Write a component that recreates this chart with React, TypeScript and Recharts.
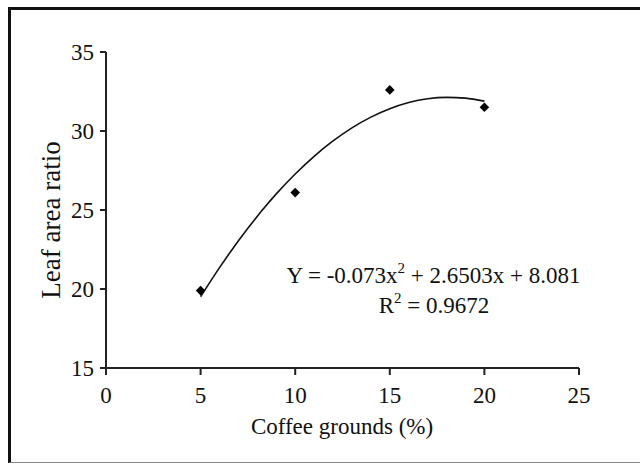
import React from "react";
import { ComposedChart, Line, Scatter, XAxis, YAxis, Customized } from "recharts";

// Observed data: coffee grounds (%) vs leaf area ratio
const groundsPct = [5, 10, 15, 20];
const leafAreaRatio = [19.9, 26.1, 32.6, 31.5];

// Trend line values (x = 5..20)
const trendX = [5, 6, 7, 8, 9, 10, 11, 12, 13, 14, 15, 16, 17, 18, 19, 20];
const trendY = [19.51, 21.35, 23.06, 24.61, 26.02, 27.28, 28.4, 29.37, 30.2, 30.88, 31.41, 31.8, 32.04, 32.13, 32.08, 31.89];

const xTicks = [0, 5, 10, 15, 20, 25];
const yTicks = [15, 20, 25, 30, 35];

const points = groundsPct.map((x, i) => ({ x, y: leafAreaRatio[i] }));
const trend = trendX.map((x, i) => ({ x, t: trendY[i] }));

const FONT = '"Liberation Serif", "Times New Roman", serif';
const INK = "#111";

const Diamond = (props: any) => {
  const { cx, cy } = props;
  const r = 4.8;
  return (
    <polygon
      points={`${cx},${cy - r} ${cx + r},${cy} ${cx},${cy + r} ${cx - r},${cy}`}
      fill="#000"
    />
  );
};

const XTick = (props: any) => {
  const { x, y, payload } = props;
  return (
    <text x={x} y={y} dy="0.71em" textAnchor="middle" fontFamily={FONT} fontSize={23} fill={INK}>
      {payload.value}
    </text>
  );
};

const YTick = (props: any) => {
  const { x, y, payload } = props;
  return (
    <text x={x} y={y} dy="0.355em" textAnchor="end" fontFamily={FONT} fontSize={23} fill={INK}>
      {payload.value}
    </text>
  );
};

const Annotations = () => (
  <g fontFamily={FONT} fill={INK}>
    <text x={422.5} y={273} fontSize={23} textAnchor="middle">
      Y = -0.073x
      <tspan dy={-10} fontSize={15}>2</tspan>
      <tspan dy={10}> + 2.6503x + 8.081</tspan>
    </text>
    <text x={423} y={303} fontSize={23} textAnchor="middle">
      R
      <tspan dy={-10} fontSize={15}>2</tspan>
      <tspan dy={10}> = 0.9672</tspan>
    </text>
    <text x={331} y={424} fontSize={23} textAnchor="middle">
      Coffee grounds (%)
    </text>
    <text x={49} y={210} fontSize={27} textAnchor="middle" transform="rotate(-90, 49, 210)">
      Leaf area ratio
    </text>
  </g>
);

export default function App() {
  return (
    <div
      style={{
        position: "fixed",
        left: 8,
        top: 7,
        width: 629,
        height: 452,
        borderTop: "3px solid #111",
        borderLeft: "3px solid #111",
        borderBottom: "1px solid #888",
        background: "#fff",
        fontFamily: FONT,
      }}
    >
      <ComposedChart
        width={629}
        height={452}
        margin={{ top: 42, right: 61, left: 0, bottom: 0 }}
      >
        <XAxis
          type="number"
          dataKey="x"
          domain={[0, 25]}
          ticks={xTicks}
          height={94}
          tickSize={7}
          tickMargin={12}
          stroke="#222"
          strokeWidth={2}
          tick={XTick}
          allowDataOverflow
        />
        <YAxis
          type="number"
          domain={[15, 35]}
          ticks={yTicks}
          width={95}
          tickSize={6}
          tickMargin={6}
          stroke="#222"
          strokeWidth={2}
          tick={YTick}
          allowDataOverflow
        />
        <Line
          data={trend}
          dataKey="t"
          type="monotone"
          stroke="#111"
          strokeWidth={1.6}
          dot={false}
          activeDot={false}
          isAnimationActive={false}
        />
        <Scatter
          data={points}
          dataKey="y"
          shape={Diamond}
          isAnimationActive={false}
        />
        <Customized component={Annotations} />
      </ComposedChart>
    </div>
  );
}
